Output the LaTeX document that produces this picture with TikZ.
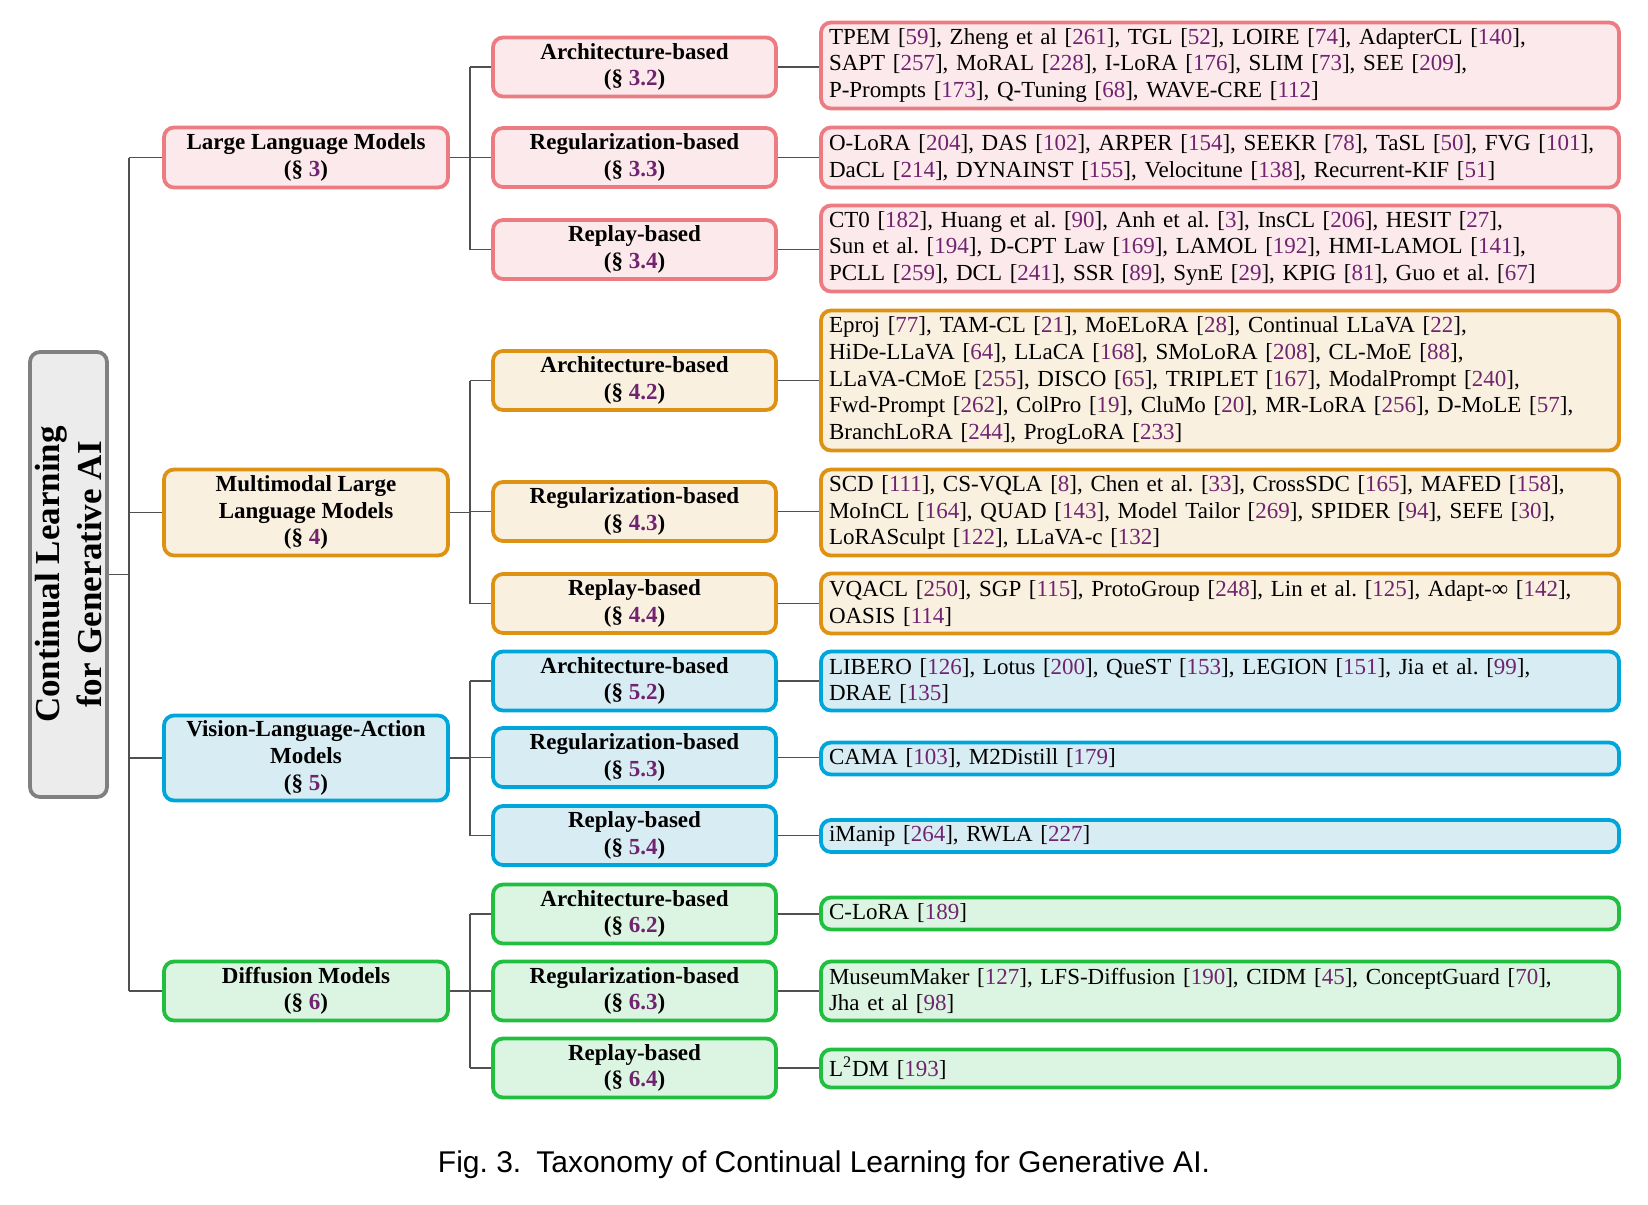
\documentclass[tikz,border=0pt]{standalone}
\usepackage{fontspec}
\setmainfont{Liberation Serif}
\newfontfamily\capfont{Liberation Sans}
\frenchspacing
\definecolor{citec}{RGB}{112,36,112}
\definecolor{redd}{RGB}{236,124,130}
\definecolor{redf}{RGB}{252,233,236}
\definecolor{orad}{RGB}{222,146,20}
\definecolor{oraf}{RGB}{250,240,224}
\definecolor{blud}{RGB}{0,166,218}
\definecolor{bluf}{RGB}{216,236,243}
\definecolor{grnd}{RGB}{34,190,64}
\definecolor{grnf}{RGB}{220,245,226}
\definecolor{rootd}{RGB}{128,128,128}
\definecolor{rootf}{RGB}{236,236,236}
\definecolor{connc}{RGB}{80,80,80}
\newcommand{\cc}[1]{[\textcolor{citec}{#1}]}
\newcommand{\sect}[1]{(§ \textcolor{citec}{#1})}
\tikzset{
  base/.style={draw, rounded corners=5pt, line width=1.9pt},
  rootbox/.style={base, draw=rootd, fill=rootf, rotate=90, minimum width=222.5pt, minimum height=38.5pt, align=center, inner sep=0pt, font=\bfseries\fontsize{17.5}{21}\selectfont},
  lone/.style={base, minimum width=142pt, align=center, inner sep=1pt, font=\bfseries\fontsize{11.5}{13.3}\selectfont},
  ltwo/.style={base, minimum width=141.5pt, minimum height=29.5pt, align=center, inner sep=1pt, font=\bfseries\fontsize{11.5}{13.3}\selectfont},
  lthree/.style={base, text width=391pt, inner xsep=4pt, inner ysep=1pt, align=left, font=\fontsize{11.5}{13.3}\selectfont},
  cred/.style={draw=redd, fill=redf},
  cora/.style={draw=orad, fill=oraf},
  cblu/.style={draw=blud, fill=bluf},
  cgrn/.style={draw=grnd, fill=grnf},
  conn/.style={draw=connc, line width=0.6pt},
}
\begin{document}
\begin{tikzpicture}[x=0.5pt, y=-0.5pt]
\useasboundingbox (0,0) rectangle (1648,1204);

% root
\node[rootbox] (root) at (68.5,574.5) {Continual Learning\\for Generative AI};

% level 1
\node[lone, cred, minimum height=30pt] (la) at (306,157.5) {Large Language Models\\\sect{3}};
\node[lone, cora, minimum height=43pt] (lb) at (306,512.5) {Multimodal Large\\Language Models\\\sect{4}};
\node[lone, cblu, minimum height=42.5pt] (lc) at (306,758) {Vision-Language-Action\\Models\\\sect{5}};
\node[lone, cgrn, minimum height=29.5pt] (ld) at (306,991) {Diffusion Models\\\sect{6}};

% level 2
\node[ltwo, cred] (aa) at (634.5,67) {Architecture-based\\\sect{3.2}};
\node[ltwo, cred] (ab) at (634.5,157.5) {Regularization-based\\\sect{3.3}};
\node[ltwo, cred] (ac) at (634.5,249.5) {Replay-based\\\sect{3.4}};
\node[ltwo, cora] (ba) at (634.5,380.5) {Architecture-based\\\sect{4.2}};
\node[ltwo, cora] (bb) at (634.5,511.5) {Regularization-based\\\sect{4.3}};
\node[ltwo, cora] (bc) at (634.5,603.5) {Replay-based\\\sect{4.4}};
\node[ltwo, cblu] (ca) at (634.5,681) {Architecture-based\\\sect{5.2}};
\node[ltwo, cblu] (cb) at (634.5,757.5) {Regularization-based\\\sect{5.3}};
\node[ltwo, cblu] (cc) at (634.5,835.5) {Replay-based\\\sect{5.4}};
\node[ltwo, cgrn] (da) at (634.5,914) {Architecture-based\\\sect{6.2}};
\node[ltwo, cgrn] (db) at (634.5,991) {Regularization-based\\\sect{6.3}};
\node[ltwo, cgrn] (dc) at (634.5,1068) {Replay-based\\\sect{6.4}};

% level 3
\node[lthree, cred, minimum height=43pt] (taa) at (1220,65.5) {TPEM \cc{59}, Zheng et al \cc{261}, TGL \cc{52}, LOIRE \cc{74}, AdapterCL \cc{140},\\
SAPT \cc{257}, MoRAL \cc{228}, I-LoRA \cc{176}, SLIM \cc{73}, SEE \cc{209},\\
P-Prompts \cc{173}, Q-Tuning \cc{68}, WAVE-CRE \cc{112}};
\node[lthree, cred, minimum height=30pt] (tab) at (1220,157.5) {O-LoRA \cc{204}, DAS \cc{102}, ARPER \cc{154}, SEEKR \cc{78}, TaSL \cc{50}, FVG \cc{101},\\
DaCL \cc{214}, DYNAINST \cc{155}, Velocitune \cc{138}, Recurrent-KIF \cc{51}};
\node[lthree, cred, minimum height=43pt] (tac) at (1220,248.5) {CT0 \cc{182}, Huang et al. \cc{90}, Anh et al. \cc{3}, InsCL \cc{206}, HESIT \cc{27},\\
Sun et al. \cc{194}, D-CPT Law \cc{169}, LAMOL \cc{192}, HMI-LAMOL \cc{141},\\
PCLL \cc{259}, DCL \cc{241}, SSR \cc{89}, SynE \cc{29}, KPIG \cc{81}, Guo et al. \cc{67}};

\node[lthree, cora, minimum height=70pt] (tba) at (1220,380.5) {Eproj \cc{77}, TAM-CL \cc{21}, MoELoRA \cc{28}, Continual LLaVA \cc{22},\\
HiDe-LLaVA \cc{64}, LLaCA \cc{168}, SMoLoRA \cc{208}, CL-MoE \cc{88},\\
LLaVA-CMoE \cc{255}, DISCO \cc{65}, TRIPLET \cc{167}, ModalPrompt \cc{240},\\
Fwd-Prompt \cc{262}, ColPro \cc{19}, CluMo \cc{20}, MR-LoRA \cc{256}, D-MoLE \cc{57},\\
BranchLoRA \cc{244}, ProgLoRA \cc{233}};
\node[lthree, cora, minimum height=43pt] (tbb) at (1220,512.5) {SCD \cc{111}, CS-VQLA \cc{8}, Chen et al. \cc{33}, CrossSDC \cc{165}, MAFED \cc{158},\\
MoInCL \cc{164}, QUAD \cc{143}, Model Tailor \cc{269}, SPIDER \cc{94}, SEFE \cc{30},\\
LoRASculpt \cc{122}, LLaVA-c \cc{132}};
\node[lthree, cora, minimum height=30pt] (tbc) at (1220,603.5) {VQACL \cc{250}, SGP \cc{115}, ProtoGroup \cc{248}, Lin et al. \cc{125}, Adapt-∞ \cc{142},\\
OASIS \cc{114}};

\node[lthree, cblu, minimum height=29.5pt] (tca) at (1220,681) {LIBERO \cc{126}, Lotus \cc{200}, QueST \cc{153}, LEGION \cc{151}, Jia et al. \cc{99},\\
DRAE \cc{135}};
\node[lthree, cblu, minimum height=16pt] (tcb) at (1220,758.5) {CAMA \cc{103}, M2Distill \cc{179}};
\node[lthree, cblu, minimum height=16pt] (tcc) at (1220,836) {iManip \cc{264}, RWLA \cc{227}};

\node[lthree, cgrn, minimum height=16pt] (tda) at (1220,913.5) {C-LoRA \cc{189}};
\node[lthree, cgrn, minimum height=29.5pt] (tdb) at (1220,991) {MuseumMaker \cc{127}, LFS-Diffusion \cc{190}, CIDM \cc{45}, ConceptGuard \cc{70},\\
Jha et al \cc{98}};
\node[lthree, cgrn, minimum height=19pt] (tdc) at (1220,1068.5) {L\textsuperscript{2}DM \cc{193}};

% connectors
\coordinate (t0) at (129,574.5);
\coordinate (ja) at (470,157.5);
\draw[conn] (root.south) -- (t0);
\draw[conn] (t0 |- la.west) -- (t0 |- ld.west);
\foreach \n in {la,lb,lc,ld} {\draw[conn] (t0 |- \n.west) -- (\n.west);}
\foreach \p/\a/\b/\c in {la/aa/ab/ac, lb/ba/bb/bc, lc/ca/cb/cc, ld/da/db/dc} {
  \draw[conn] (\p.east) -- (\p.east -| ja);
  \draw[conn] (ja |- \a.west) -- (ja |- \c.west);
  \draw[conn] (ja |- \a.west) -- (\a.west);
  \draw[conn] (ja |- \b.west) -- (\b.west);
  \draw[conn] (ja |- \c.west) -- (\c.west);
}
\foreach \a in {aa,ab,ac,ba,bb,bc,ca,cb,cc,da,db,dc} {\draw[conn] (\a.east) -- (\a.east -| t\a.west);}

% caption
\node[font=\capfont\fontsize{15}{18}\selectfont] (cap) at (824,1165) {Fig. 3.\enspace Taxonomy of Continual Learning for Generative AI.};
\end{tikzpicture}
\end{document}
